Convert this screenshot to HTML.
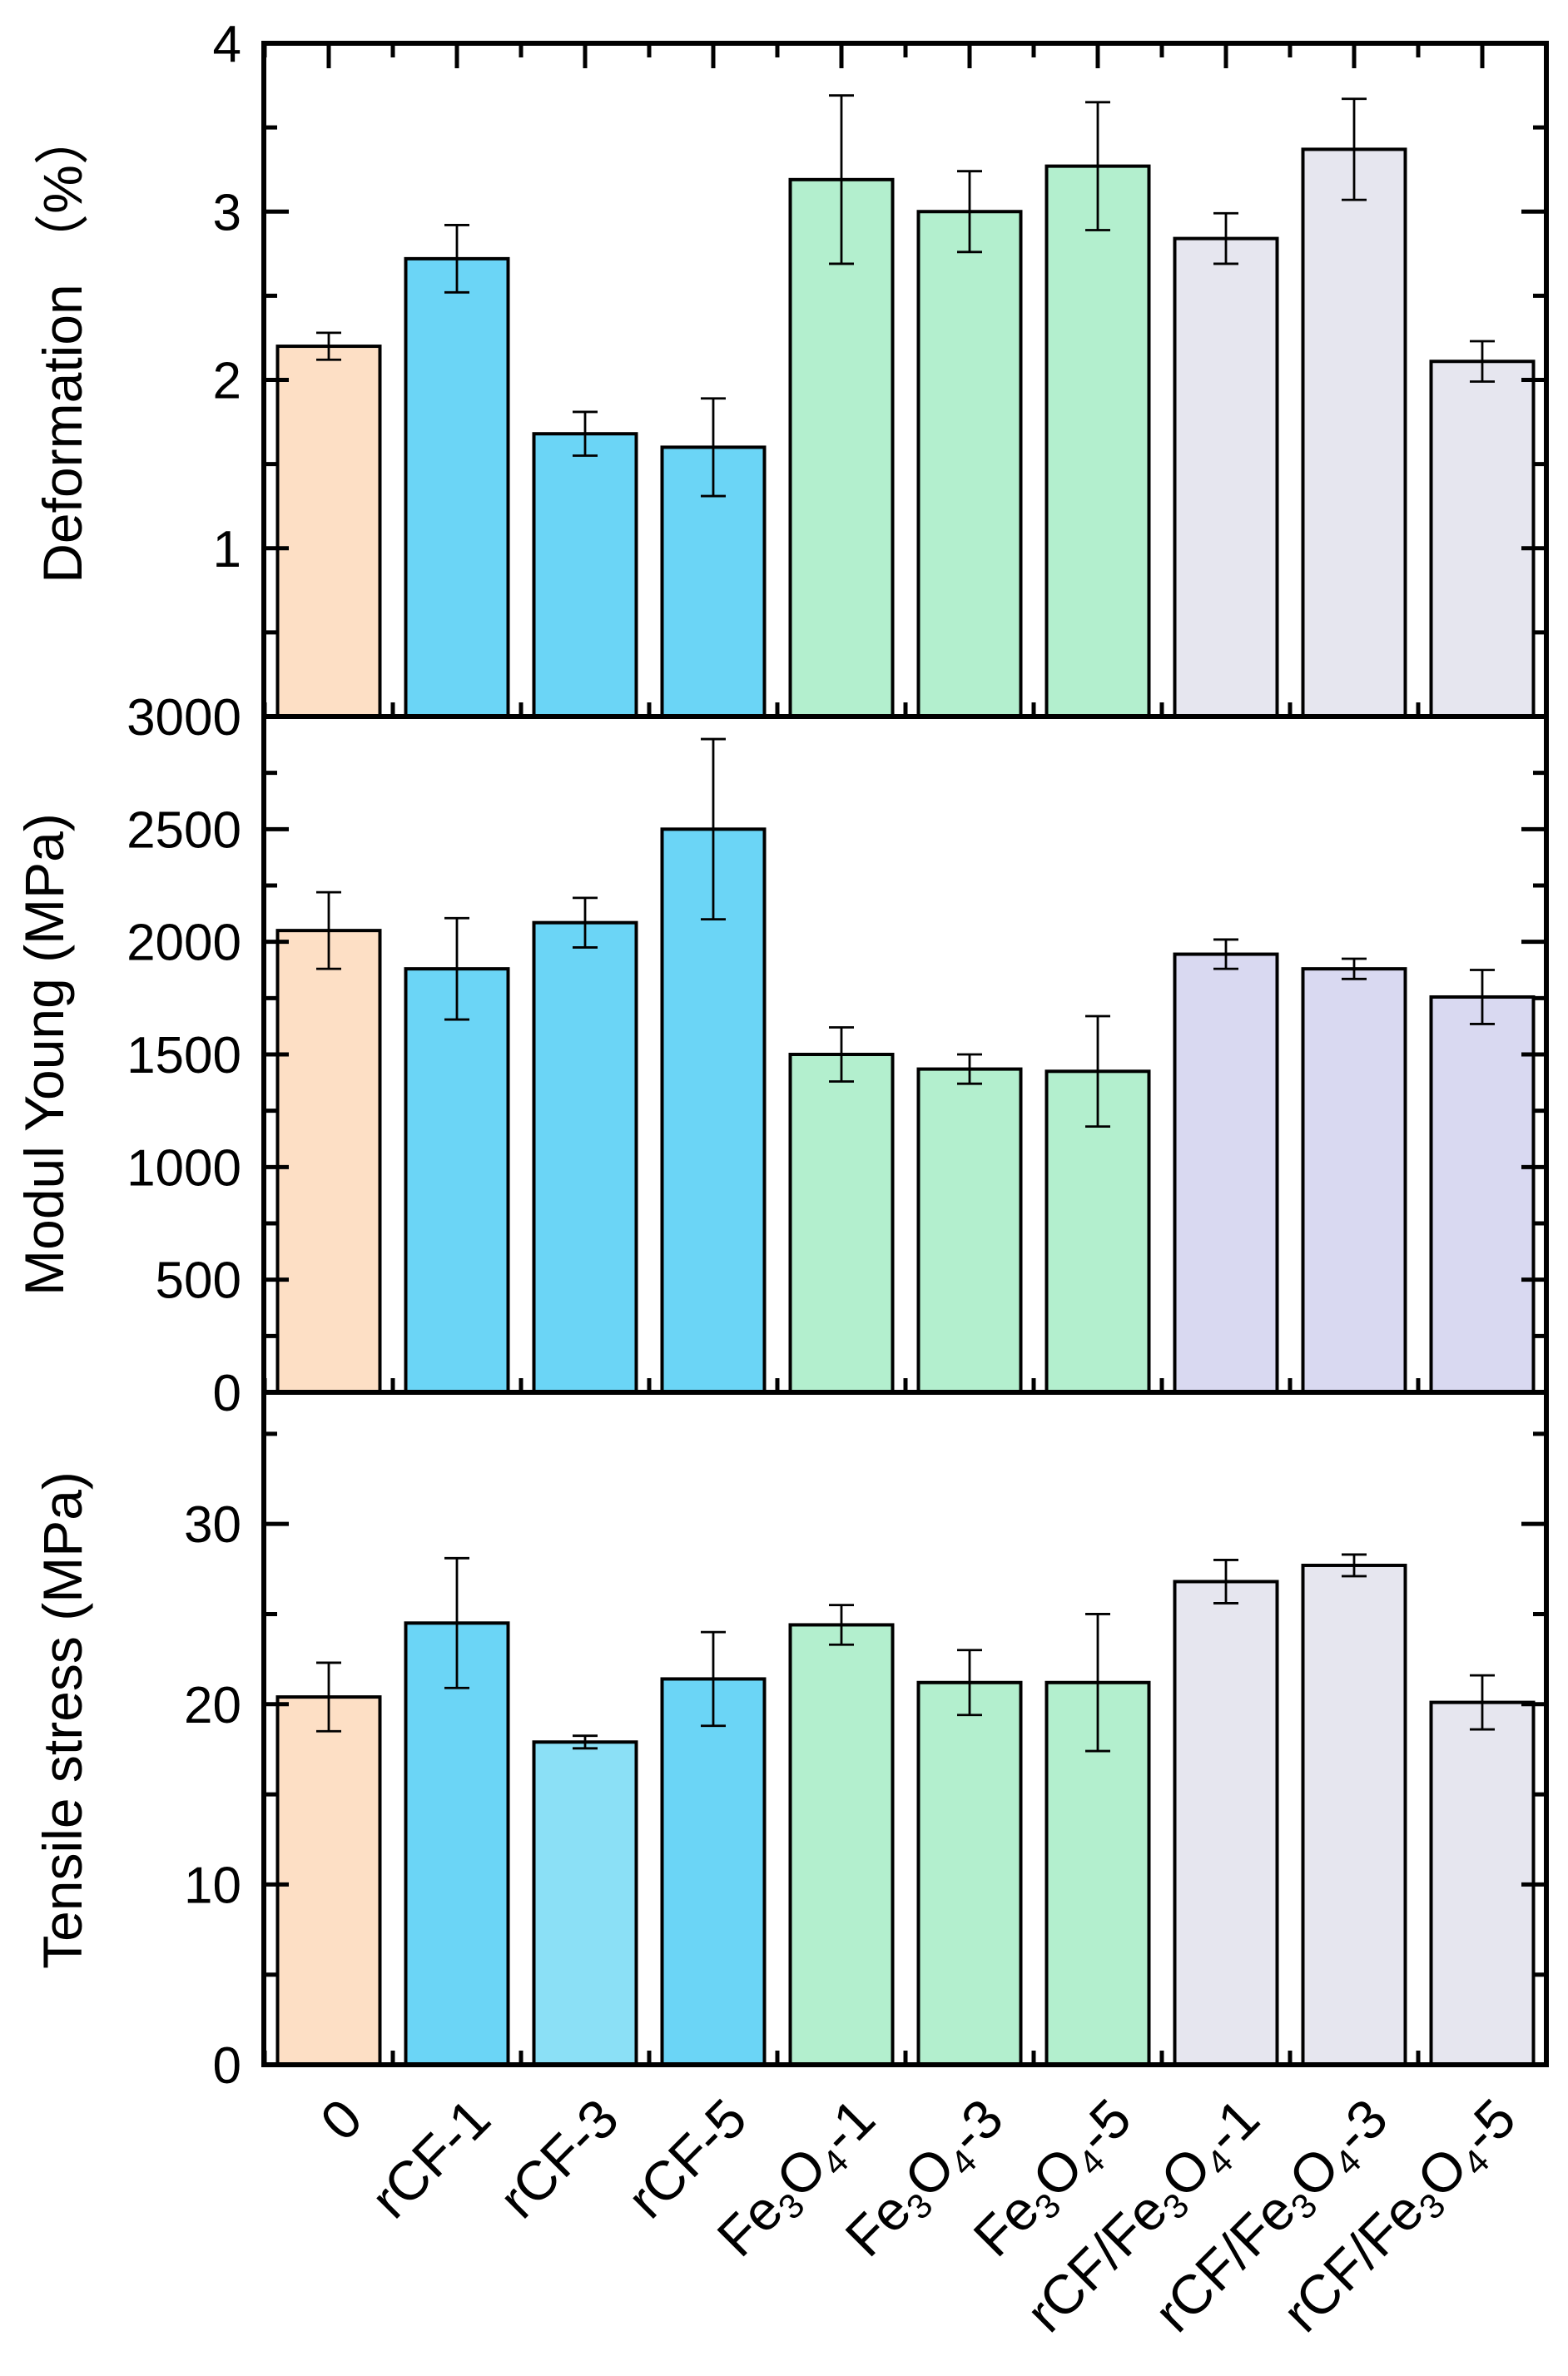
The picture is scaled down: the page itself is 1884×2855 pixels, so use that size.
<!DOCTYPE html>
<html><head><meta charset="utf-8"><style>
html,body{margin:0;padding:0;background:#fff;}
svg{display:block;font-family:"Liberation Sans",Arial,sans-serif;}
</style></head><body>
<svg id="chart" width="1884" height="2855" viewBox="0 0 1884 2855" xmlns="http://www.w3.org/2000/svg"></svg>
<script>
const categories = ["0","rCF-1","rCF-3","rCF-5","Fe3O4-1","Fe3O4-3","Fe3O4-5","rCF/Fe3O4-1","rCF/Fe3O4-3","rCF/Fe3O4-5"];
const deformValues = [2.2,2.72,1.68,1.6,3.19,3.0,3.27,2.84,3.37,2.11];
const deformErrors = [0.08,0.2,0.13,0.29,0.5,0.24,0.38,0.15,0.3,0.12];
const youngValues = [2050,1880,2085,2500,1500,1435,1425,1945,1880,1755];
const youngErrors = [170,225,110,400,120,65,245,65,45,120];
const tensileValues = [20.4,24.5,17.9,21.4,24.4,21.2,21.2,26.8,27.7,20.1];
const tensileErrors = [1.9,3.6,0.35,2.6,1.1,1.8,3.8,1.2,0.6,1.5];
const deformTicks = [1,2,3,4];
const youngTicks = [0,500,1000,1500,2000,2500,3000];
const tensileTicks = [0,10,20,30];
const deformColors = ["#FDDFC5","#6BD5F6","#6BD5F6","#6BD5F6","#B3EFCE","#B3EFCE","#B3EFCE","#E6E6EF","#E6E6EF","#E6E6EF"];
const youngColors = ["#FDDFC5","#6BD5F6","#6BD5F6","#6BD5F6","#B3EFCE","#B3EFCE","#B3EFCE","#D9D9F1","#D9D9F1","#D9D9F1"];
const tensileColors = ["#FDDFC5","#6BD5F6","#8BE0F6","#6BD5F6","#B3EFCE","#B3EFCE","#B3EFCE","#E6E6EF","#E6E6EF","#E6E6EF"];

const NS="http://www.w3.org/2000/svg";
const svg=document.getElementById('chart');
const X0=317, X1=1858, C0=395, STEP=154, BW=123;
function xc(i){return C0+STEP*i;}
function mk(tag,attrs,parent){const e=document.createElementNS(NS,tag);for(const k in attrs)e.setAttribute(k,attrs[k]);(parent||svg).appendChild(e);return e;}

function panel(name,top,bottom,maxV,values,errors,colors,ticks,minorStep,title,titleX,titleDy,topTicks){
  const g=mk('g',{});
  
  
  const y=v=>bottom-(v/maxV)*(bottom-top);
  values.forEach((v,i)=>{
    const r=mk('rect',{x:xc(i)-BW/2,y:y(v),width:BW,height:bottom-y(v),fill:colors[i],stroke:'#000','stroke-width':4},g);
    
    
    const e=errors[i], cx=xc(i);
    const eb=mk('path',{d:`M${cx},${y(v+e)}V${y(v-e)}M${cx-15},${y(v+e)}H${cx+15}M${cx-15},${y(v-e)}H${cx+15}`,stroke:'#000','stroke-width':2.8,fill:'none'},g);
    
    
  });
  let d='';
  for(let v=0;v<=maxV+1e-9;v+=minorStep){
    const yy=y(v); const major=ticks.some(t=>Math.abs(t-v)<1e-6);
    const L=major?30:16;
    d+=`M${X0},${yy}H${X0+L}M${X1},${yy}H${X1-L}`;
  }
  for(let i=0;i<=categories.length;i++){const xx=xc(i)-STEP/2;d+=`M${xx},${bottom}V${bottom-17}`;}
  if(topTicks){
    for(let i=0;i<categories.length;i++){d+=`M${xc(i)},${top}V${top+30}`;}
    for(let i=0;i<=categories.length;i++){const xx=xc(i)-STEP/2;d+=`M${xx},${top}V${top+17}`;}
  }
  mk('path',{d:d,stroke:'#000','stroke-width':5,fill:'none'},g);
  const fr=mk('rect',{x:X0,y:top,width:X1-X0,height:bottom-top,fill:'none',stroke:'#000','stroke-width':6},g);
  
  
  ticks.forEach(t=>{
    const tx=mk('text',{x:290,y:y(t)+22,'font-size':62,'text-anchor':'end'},g);
    tx.textContent=t;
    
    
  });
  const cy=(top+bottom)/2+titleDy;
  const tt=mk('text',{x:titleX,y:cy,'font-size':66,'text-anchor':'middle',transform:`rotate(-90 ${titleX} ${cy})`},g);
  tt.textContent=title;
  
  
}
panel('deformation',52,861,4,deformValues,deformErrors,deformColors,deformTicks,0.5,'Deformation （%）',98,-40,true);
panel('young-modulus',861,1673,3000,youngValues,youngErrors,youngColors,youngTicks,250,'Modul Young (MPa)',76,0,false);
panel('tensile-stress',1673,2481,37.3,tensileValues,tensileErrors,tensileColors,tensileTicks,5,'Tensile stress (MPa)',98,-10,false);

categories.forEach((c,i)=>{
  const ax=xc(i)+44, ay=2550;
  const t=mk('text',{x:ax,y:ay,'font-size':66,'text-anchor':'end',transform:`rotate(-45 ${ax} ${ay})`});
  
  
  if(c.indexOf('Fe3O4')<0){t.textContent=c;return;}
  const m=c.match(/^(.*)Fe3O4(.*)$/);
  const seg=[[m[1]+'Fe',0],['3',1],['O',0],['4',1],[m[2],0]];
  seg.forEach(([s,sub])=>{
    if(!s)return;
    const ts=mk('tspan',{},t);
    if(sub){ts.setAttribute('font-size','42');ts.setAttribute('dy','12');}
    else if(t.childNodes.length>1){ts.setAttribute('dy','-12');}
    ts.textContent=s;
  });
});
</script>
</body></html>
